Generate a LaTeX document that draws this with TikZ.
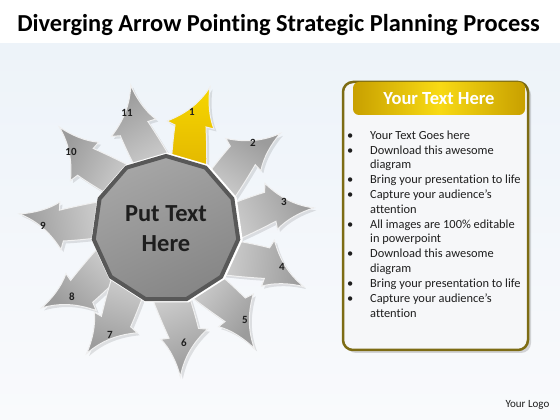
\documentclass[tikz,border=0pt]{standalone}
\usepackage{fontspec}
\setmainfont{Carlito}[Ligatures=NoCommon]
\usetikzlibrary{shapes.geometric}
\definecolor{bgA}{RGB}{237,243,249}
\definecolor{bgB}{RGB}{249,250,252}
\definecolor{hubedge}{RGB}{88,88,88}
\definecolor{hubA}{RGB}{166,166,166}
\definecolor{hubB}{RGB}{134,134,134}
\definecolor{arrHead}{RGB}{156,156,156}
\definecolor{arrBase}{RGB}{218,218,218}
\definecolor{arrRim}{RGB}{240,240,240}
\definecolor{yelHead}{RGB}{246,214,0}
\definecolor{yelBase}{RGB}{222,176,0}
\definecolor{panelEdge}{RGB}{125,108,20}
\definecolor{panelFill}{RGB}{246,247,249}
\definecolor{goldD}{RGB}{200,160,0}
\definecolor{goldL}{RGB}{248,218,20}
\definecolor{txt}{RGB}{30,30,30}
\begin{document}
\begin{tikzpicture}[x=1pt,y=1pt,
  numlabel/.style={font=\fontsize{11}{13}\selectfont\bfseries, text=txt, inner sep=0},
  arrowshadow/.style={fill=black, opacity=0.10},
  hubshape/.style={regular polygon, regular polygon sides=11, inner sep=0}
]
\useasboundingbox (0,0) rectangle (560,420);
\fill[white] (0,0) rectangle (560,420);
\shade[top color=bgA, bottom color=bgB] (0,0) rectangle (560,376);

\node[font=\fontsize{24.4}{28}\selectfont\bfseries, text=black, inner sep=0] (title) at (278.5,395) {Diverging Arrow Pointing Strategic Planning Process};

% arrows
\foreach \r/\hc/\bc in {-329/arrHead/arrBase, -296.6/arrHead/arrBase, -259/arrHead/arrBase, -221/arrHead/arrBase, -196/arrHead/arrBase, -158/arrHead/arrBase, -127/arrHead/arrBase, -96/arrHead/arrBase, -65/arrHead/arrBase, -33/arrHead/arrBase, 0/yelHead/yelBase} {
  \begin{scope}[shift={(169.5,188.5)}, rotate=\r]
    \fill[arrowshadow] (3,40) .. controls (4,70) and (6,90) .. (8,104) -- (0,108) .. controls (18,115) and (32,125) .. (43,142) .. controls (41,128) and (42,112) .. (47,100) -- (39,102) .. controls (40,80) and (40,60) .. (39,40) -- cycle;
  \end{scope}
  \begin{scope}[shift={(167,191)}, rotate=\r]
    \shade[top color=\hc, bottom color=\bc, shading angle=\r, draw=arrRim, line width=1] (3,40) .. controls (4,70) and (6,90) .. (8,104) -- (0,108) .. controls (18,115) and (32,125) .. (43,142) .. controls (41,128) and (42,112) .. (47,100) -- (39,102) .. controls (40,80) and (40,60) .. (39,40) -- cycle;
  \end{scope}
}

% hub
\node[hubshape, minimum size=153, fill=white] (rim) at (167,191) {};
\node[hubshape, minimum size=146, draw=hubedge, line width=4, top color=hubA, bottom color=hubB, shading angle=25,
  font=\fontsize{24.5}{30}\selectfont\bfseries, text=txt, align=center] (hub) at (166,191) {Put Text\\Here};

% labels
\node[numlabel] (l1) at (192,308) {1};
\node[numlabel] (l2) at (253,277) {2};
\node[numlabel] (l3) at (284,218) {3};
\node[numlabel] (l4) at (282,153) {4};
\node[numlabel] (l5) at (245,100) {5};
\node[numlabel] (l6) at (184,77) {6};
\node[numlabel] (l7) at (110,85) {7};
\node[numlabel] (l8) at (72,123) {8};
\node[numlabel] (l9) at (43,194) {9};
\node[numlabel] (l10) at (71,268) {10};
\node[numlabel] (l11) at (127,307) {11};

% panel
\fill[black, opacity=0.15, rounded corners=10] (346,67) rectangle (531,335);
\node[draw=panelEdge, line width=2.5, fill=panelFill, rounded corners=10, minimum width=185, minimum height=268, inner sep=0] (panel) at (435.5,204) {};
\node[rounded corners=6, left color=goldD, right color=goldD, middle color=goldL, minimum width=172, minimum height=33, inner sep=0,
  font=\fontsize{18.5}{22}\selectfont\bfseries, text=white] (header) at (439,321.5) {Your Text Here};

\node[anchor=north west, inner sep=0, text=txt, font=\fontsize{12.4}{14.83}\selectfont] (bullets) at (347,291.4) {%
\begin{tabular}{@{}p{23pt}@{}l@{}}
\textbullet & Your Text Goes here\\
\textbullet & Download this awesome\\
 & diagram\\
\textbullet & Bring your presentation to life\\
\textbullet & Capture your audience’s\\
 & attention\\
\textbullet & All images are 100\% editable\\
 & in powerpoint\\
\textbullet & Download this awesome\\
 & diagram\\
\textbullet & Bring your presentation to life\\
\textbullet & Capture your audience’s\\
 & attention
\end{tabular}};

\node[font=\fontsize{11}{13}\selectfont, text=txt, inner sep=0] (logo) at (527.5,15) {Your Logo};
\end{tikzpicture}
\end{document}
